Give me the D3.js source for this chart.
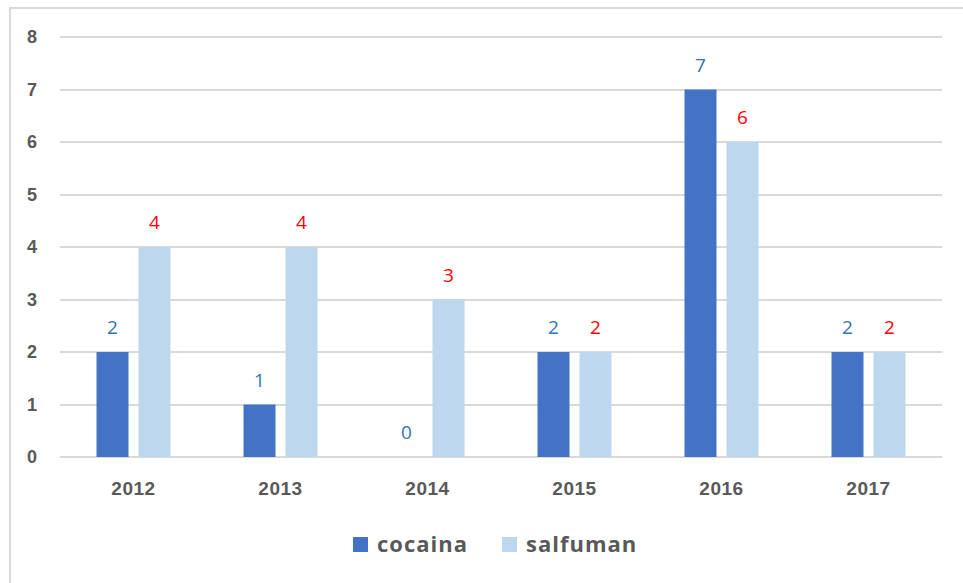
<!DOCTYPE html>
<meta charset="utf-8">
<style>
body { margin: 0; background: #fff; }
svg { font-family: "Open Sans", "Liberation Sans", sans-serif; }
.grid line { stroke: #d9d9d9; stroke-width: 2px; shape-rendering: crispEdges; }
.tick text { fill: #595959; font-weight: bold; }
</style>
<body>
<div id="chart"></div>
<script src="https://cdn.jsdelivr.net/npm/d3@7"></script>
<script>
var width = 963, height = 583;

var years = ['2012', '2013', '2014', '2015', '2016', '2017'];
var cocaina = [2, 1, 0, 2, 7, 2];
var salfuman = [4, 4, 3, 2, 6, 2];
var yTicks = [0, 1, 2, 3, 4, 5, 6, 7, 8];

var series = [
  {name: 'cocaina', values: cocaina, fill: '#4472c4', label: '#2e75b6'},
  {name: 'salfuman', values: salfuman, fill: '#bdd7ee', label: '#ff0000'}
];

var svg = d3.select('#chart').append('svg')
  .attr('width', width)
  .attr('height', height);

// chart frame (only top and left edges are visible)
svg.append('path')
  .attr('d', 'M10,' + height + 'V8H' + width)
  .attr('fill', 'none')
  .attr('stroke', '#d9d9d9')
  .attr('stroke-width', 2);

var x = d3.scaleBand().domain(years).range([60, 942]);
var y = d3.scaleLinear().domain([0, 8]).range([457, 37]);

// gridlines
svg.append('g').attr('class', 'grid')
  .selectAll('line')
  .data(yTicks)
  .enter().append('line')
    .attr('x1', 60).attr('x2', 942)
    .attr('y1', function(d) { return y(d); })
    .attr('y2', function(d) { return y(d); });

// y axis labels
var yAxis = svg.append('g')
  .attr('transform', 'translate(40,0)')
  .call(d3.axisLeft(y).tickValues(yTicks).tickSize(0).tickPadding(0));
yAxis.select('.domain').remove();
yAxis.selectAll('text').attr('font-size', 18).attr('text-anchor', 'middle').attr('dx', -8);

// x axis labels
var xAxis = svg.append('g')
  .attr('transform', 'translate(0,472)')
  .call(d3.axisBottom(x).tickSize(0).tickPadding(10));
xAxis.select('.domain').remove();
xAxis.selectAll('text').attr('font-size', 19).style('letter-spacing', '0.5px');

var barW = 32, offset = 21;

series.forEach(function(s, si) {
  var dx = si === 0 ? -offset : offset;
  var g = svg.append('g');
  g.selectAll('rect')
    .data(s.values)
    .enter().append('rect')
      .attr('x', function(d, i) { return x(years[i]) + x.bandwidth() / 2 + dx - barW / 2; })
      .attr('y', function(d) { return y(d); })
      .attr('width', barW)
      .attr('height', function(d) { return y(0) - y(d); })
      .attr('fill', s.fill);
  g.selectAll('text')
    .data(s.values)
    .enter().append('text')
      .attr('x', function(d, i) { return x(years[i]) + x.bandwidth() / 2 + dx; })
      .attr('y', function(d) { return y(d) - 18; })
      .attr('text-anchor', 'middle')
      .attr('font-size', 19)
      .attr('fill', s.label)
      .text(function(d) { return d; });
});

// legend
var legendX = [353, 502];
var legend = svg.append('g')
  .selectAll('g')
  .data(series)
  .enter().append('g')
    .attr('transform', function(d, i) { return 'translate(' + legendX[i] + ',537)'; });
legend.append('rect')
  .attr('width', 15).attr('height', 15)
  .attr('fill', function(d) { return d.fill; });
legend.append('text')
  .attr('x', 24).attr('y', 15)
  .attr('font-size', 22)
  .attr('font-weight', 'bold')
  .style('letter-spacing', '1px')
  .attr('fill', '#595959')
  .text(function(d) { return d.name; });
</script>
</body>
